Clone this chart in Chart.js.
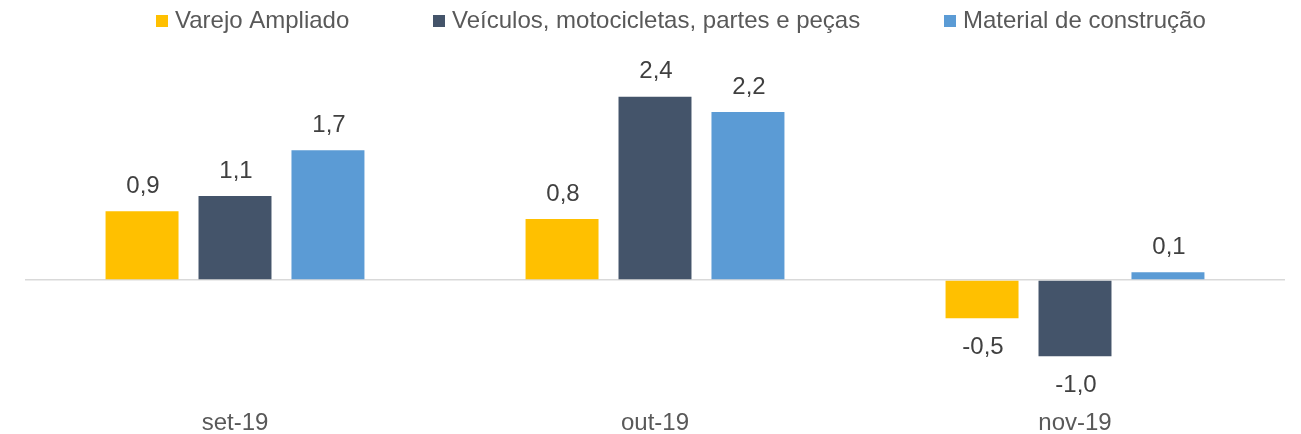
<!DOCTYPE html>
<html>
<head>
<meta charset="utf-8">
<script src="https://cdn.jsdelivr.net/npm/chart.js@4/dist/chart.umd.min.js"></script>
<style>
  html, body { margin: 0; padding: 0; background: #fff; }
  #wrap { width: 1301px; height: 434px; }
</style>
</head>
<body>
<div id="wrap"><canvas id="chart" width="1301" height="434"></canvas></div>
<script>
// dados do gráfico
const categorias = ['set-19', 'out-19', 'nov-19'];
const seriesNomes = ['Varejo Ampliado', 'Veículos, motocicletas, partes e peças', 'Material de construção'];
const varejoAmpliado = [0.9, 0.8, -0.5];
const veiculos = [1.1, 2.4, -1.0];
const materialConstrucao = [1.7, 2.2, 0.1];

const cores = ['#FFC000', '#44546A', '#5B9BD5'];
const FONTE = '"Liberation Sans", Arial, sans-serif';
const COR_TEXTO = '#595959';
const COR_ROTULO = '#404040';

// rótulos de valor acima/abaixo das barras
const rotulosPlugin = {
  id: 'rotulos',
  afterDatasetsDraw(chart) {
    const ctx = chart.ctx;
    ctx.save();
    ctx.font = '24px ' + FONTE;
    ctx.fillStyle = COR_ROTULO;
    ctx.textAlign = 'center';
    ctx.textBaseline = 'middle';
    chart.data.datasets.forEach((ds, i) => {
      const meta = chart.getDatasetMeta(i);
      meta.data.forEach((bar, j) => {
        const v = ds.data[j];
        const txt = v.toFixed(1).replace('.', ',');
        const y = v >= 0 ? bar.y - 25 : bar.y + 29;
        ctx.fillText(txt, bar.x + 1, y);
      });
    });
    ctx.restore();
  }
};

// legenda no topo, desenhada à mão para espaçamento parecido com o Excel
const legendaPlugin = {
  id: 'legendaTopo',
  afterDraw(chart) {
    const ctx = chart.ctx;
    const posX = [156, 433, 944];
    ctx.save();
    ctx.font = '24px ' + FONTE;
    ctx.textBaseline = 'middle';
    ctx.textAlign = 'left';
    chart.data.datasets.forEach((ds, i) => {
      const x = posX[i];
      ctx.fillStyle = ds.backgroundColor;
      ctx.fillRect(x, 15, 12, 12);
      ctx.fillStyle = COR_TEXTO;
      ctx.fillText(ds.label, x + 19, 21);
    });
    ctx.restore();
  }
};

const ctx = document.getElementById('chart').getContext('2d');
new Chart(ctx, {
  type: 'bar',
  data: {
    labels: categorias,
    datasets: [
      { label: seriesNomes[0], data: varejoAmpliado, backgroundColor: cores[0] },
      { label: seriesNomes[1], data: veiculos, backgroundColor: cores[1] },
      { label: seriesNomes[2], data: materialConstrucao, backgroundColor: cores[2] }
    ]
  },
  options: {
    responsive: false,
    animation: false,
    layout: { padding: { top: 51, left: 25, right: 16, bottom: 0 } },
    datasets: {
      bar: { categoryPercentage: 0.664, barPercentage: 0.785 }
    },
    plugins: {
      legend: { display: false },
      tooltip: { enabled: false }
    },
    scales: {
      x: {
        grid: { display: false, drawTicks: false },
        border: { display: false },
        ticks: { color: COR_TEXTO, font: { family: FONTE, size: 24 }, padding: 14 },
        afterFit(scale) { scale.height = 39.5; }
      },
      y: {
        min: -1.5,
        max: 3,
        grid: {
          drawTicks: false,
          lineWidth: 1.5,
          color: c => c.tick.value === 0 ? '#D9D9D9' : 'rgba(0,0,0,0)'
        },
        border: { display: false },
        ticks: { display: false, stepSize: 0.5 },
        afterFit(scale) { scale.width = 0; }
      }
    }
  },
  plugins: [rotulosPlugin, legendaPlugin]
});
</script>
</body>
</html>
